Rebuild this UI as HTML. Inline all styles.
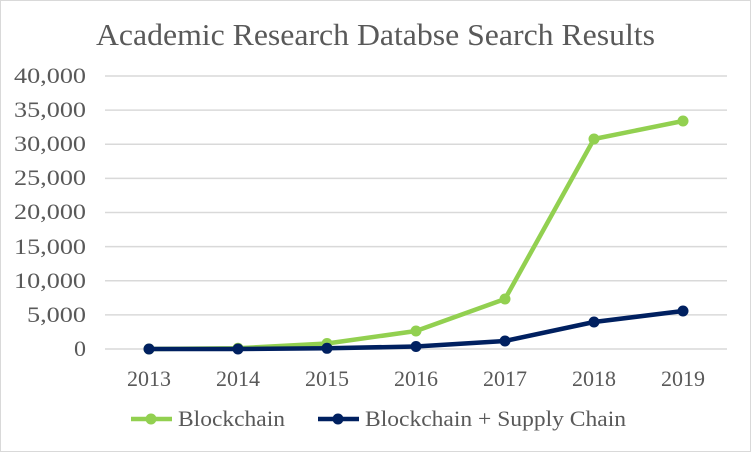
<!DOCTYPE html>
<html><head><style>
html,body{margin:0;padding:0;background:#fff;}
svg{display:block;}
text{font-family:"Liberation Serif",serif;fill:#595959;}
</style></head><body>
<svg width="751" height="452" xmlns="http://www.w3.org/2000/svg">
<rect x="0.5" y="0.5" width="750" height="451" fill="#fff" stroke="#d9d9d9"/>
<text x="96" y="45" font-size="31" textLength="559" lengthAdjust="spacingAndGlyphs">Academic Research Databse Search Results</text>
<g stroke="#d9d9d9" stroke-width="1.5">
<line x1="105" x2="727" y1="76" y2="76"/>
<line x1="105" x2="727" y1="110.1" y2="110.1"/>
<line x1="105" x2="727" y1="144.3" y2="144.3"/>
<line x1="105" x2="727" y1="178.4" y2="178.4"/>
<line x1="105" x2="727" y1="212.5" y2="212.5"/>
<line x1="105" x2="727" y1="246.6" y2="246.6"/>
<line x1="105" x2="727" y1="280.8" y2="280.8"/>
<line x1="105" x2="727" y1="314.9" y2="314.9"/>
<line x1="105" x2="727" y1="349" y2="349"/>
</g>
<g font-size="22">
<text x="14" y="83" textLength="72" lengthAdjust="spacingAndGlyphs">40,000</text>
<text x="14" y="117" textLength="72" lengthAdjust="spacingAndGlyphs">35,000</text>
<text x="14" y="151" textLength="72" lengthAdjust="spacingAndGlyphs">30,000</text>
<text x="14" y="185" textLength="72" lengthAdjust="spacingAndGlyphs">25,000</text>
<text x="14" y="219" textLength="72" lengthAdjust="spacingAndGlyphs">20,000</text>
<text x="14" y="254" textLength="72" lengthAdjust="spacingAndGlyphs">15,000</text>
<text x="14" y="288" textLength="72" lengthAdjust="spacingAndGlyphs">10,000</text>
<text x="27" y="322" textLength="59" lengthAdjust="spacingAndGlyphs">5,000</text>
<text x="74" y="356" textLength="12" lengthAdjust="spacingAndGlyphs">0</text>
</g>
<g font-size="22">
<text x="127" y="386" textLength="44" lengthAdjust="spacingAndGlyphs">2013</text>
<text x="216" y="386" textLength="44" lengthAdjust="spacingAndGlyphs">2014</text>
<text x="305" y="386" textLength="44" lengthAdjust="spacingAndGlyphs">2015</text>
<text x="394" y="386" textLength="44" lengthAdjust="spacingAndGlyphs">2016</text>
<text x="483" y="386" textLength="44" lengthAdjust="spacingAndGlyphs">2017</text>
<text x="572" y="386" textLength="44" lengthAdjust="spacingAndGlyphs">2018</text>
<text x="661" y="386" textLength="44" lengthAdjust="spacingAndGlyphs">2019</text>
</g>
<polyline fill="none" stroke="#92d050" stroke-width="4.5" stroke-linejoin="round" points="149,349 238,348.3 327,343.5 416,331 505,299 594,139 683,121"/>
<g fill="#92d050">
<circle cx="149" cy="349" r="5.5"/><circle cx="238" cy="348.3" r="5.5"/><circle cx="327" cy="343.5" r="5.5"/><circle cx="416" cy="331" r="5.5"/><circle cx="505" cy="299" r="5.5"/><circle cx="594" cy="139" r="5.5"/><circle cx="683" cy="121" r="5.5"/>
</g>
<polyline fill="none" stroke="#002060" stroke-width="4.5" stroke-linejoin="round" points="149,349 238,349 327,348.3 416,346.5 505,341 594,322 683,311"/>
<g fill="#002060">
<circle cx="149" cy="349" r="5.5"/><circle cx="238" cy="349" r="5.5"/><circle cx="327" cy="348.3" r="5.5"/><circle cx="416" cy="346.5" r="5.5"/><circle cx="505" cy="341" r="5.5"/><circle cx="594" cy="322" r="5.5"/><circle cx="683" cy="311" r="5.5"/>
</g>
<line x1="131" x2="172" y1="419" y2="419" stroke="#92d050" stroke-width="4.5"/>
<circle cx="151" cy="419" r="5.5" fill="#92d050"/>
<text x="178" y="426" font-size="22" textLength="107" lengthAdjust="spacingAndGlyphs">Blockchain</text>
<line x1="318" x2="359" y1="419" y2="419" stroke="#002060" stroke-width="4.5"/>
<circle cx="338" cy="419" r="5.5" fill="#002060"/>
<text x="365" y="426" font-size="22" textLength="261" lengthAdjust="spacingAndGlyphs">Blockchain + Supply Chain</text>
</svg>
</body></html>
